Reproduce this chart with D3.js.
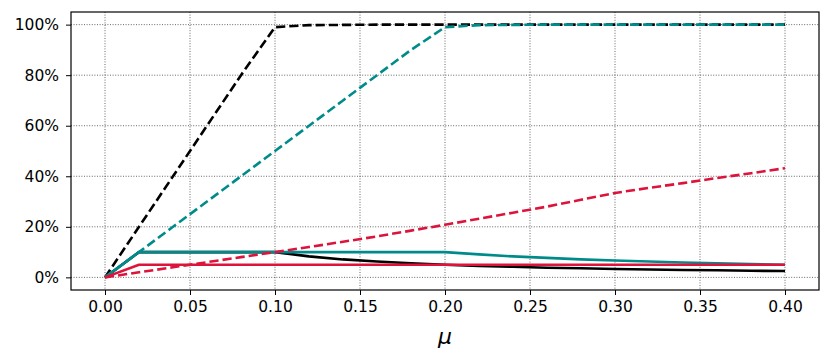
<!DOCTYPE html>
<html>
<head>
<meta charset="utf-8">
<script src="https://cdn.jsdelivr.net/npm/d3@7"></script>
<style>
  body { margin: 0; background: #fff; }
  svg text { font-family: "DejaVu Sans", sans-serif; }
</style>
</head>
<body>
<div id="chart"></div>
<script>
// mu grid (x values)
const mu = [0, 0.02, 0.04, 0.06, 0.08, 0.10, 0.12, 0.14, 0.16, 0.18, 0.20,
            0.22, 0.24, 0.26, 0.28, 0.30, 0.32, 0.34, 0.36, 0.38, 0.40];

// series
const blackSolid  = [0, 0.10, 0.10, 0.10, 0.10, 0.10, 0.083, 0.071, 0.0625, 0.056, 0.05,
                     0.045, 0.042, 0.038, 0.036, 0.033, 0.031, 0.029, 0.028, 0.026, 0.025];
const blackDashed = [0, 0.20, 0.40, 0.60, 0.80, 0.99, 0.998, 0.999, 1, 1, 1,
                     1, 1, 1, 1, 1, 1, 1, 1, 1, 1];
const tealSolid   = [0, 0.10, 0.10, 0.10, 0.10, 0.10, 0.10, 0.10, 0.10, 0.10, 0.10,
                     0.091, 0.083, 0.077, 0.071, 0.067, 0.0625, 0.059, 0.056, 0.053, 0.05];
const tealDashed  = [0, 0.10, 0.20, 0.30, 0.40, 0.50, 0.60, 0.70, 0.80, 0.90, 0.99,
                     0.998, 0.999, 1, 1, 1, 1, 1, 1, 1, 1];
const redSolid    = [0, 0.05, 0.05, 0.05, 0.05, 0.05, 0.05, 0.05, 0.05, 0.05, 0.05,
                     0.05, 0.05, 0.05, 0.05, 0.05, 0.05, 0.05, 0.05, 0.05, 0.05];
const redDashed   = [0, 0.02, 0.04, 0.06, 0.08, 0.10, 0.12, 0.141, 0.162, 0.185, 0.208,
                     0.232, 0.256, 0.28, 0.307, 0.334, 0.354, 0.373, 0.393, 0.412, 0.432];

const xTicks = [0, 0.05, 0.10, 0.15, 0.20, 0.25, 0.30, 0.35, 0.40];
const yTicks = [0, 0.2, 0.4, 0.6, 0.8, 1.0];

const series = [
  {values: blackSolid,  color: "#000000", dashed: false},
  {values: blackDashed, color: "#000000", dashed: true},
  {values: tealSolid,   color: "#008b8b", dashed: false},
  {values: tealDashed,  color: "#008b8b", dashed: true},
  {values: redSolid,    color: "#dc143c", dashed: false},
  {values: redDashed,   color: "#dc143c", dashed: true}
];

// dimensions
const margin = {top: 12, right: 12, bottom: 70, left: 71},
    width = 831 - margin.left - margin.right,
    height = 360 - margin.top - margin.bottom;

const svg = d3.select("#chart")
    .append("svg")
    .attr("width", 831)
    .attr("height", 360);

const g = svg.append("g")
    .attr("transform", "translate(" + margin.left + "," + margin.top + ")");

const x = d3.scaleLinear().domain([-0.02, 0.42]).range([0, width]);
const y = d3.scaleLinear().domain([-0.05, 1.05]).range([height, 0]);

// grid
g.append("g").selectAll("line").data(xTicks).join("line")
    .attr("x1", d => x(d)).attr("x2", d => x(d))
    .attr("y1", 0).attr("y2", height)
    .attr("stroke", "#000").attr("stroke-width", 0.6)
    .attr("stroke-dasharray", "1,1.6");
g.append("g").selectAll("line").data(yTicks).join("line")
    .attr("y1", d => y(d)).attr("y2", d => y(d))
    .attr("x1", 0).attr("x2", width)
    .attr("stroke", "#000").attr("stroke-width", 0.6)
    .attr("stroke-dasharray", "1,1.6");

// axes
const xAxis = g.append("g")
    .attr("transform", "translate(0," + height + ")")
    .call(d3.axisBottom(x).tickValues(xTicks).tickFormat(d3.format(".2f"))
        .tickSizeInner(5).tickSizeOuter(0).tickPadding(6));
const yAxis = g.append("g")
    .call(d3.axisLeft(y).tickValues(yTicks).tickFormat(d3.format(".0%"))
        .tickSizeInner(5).tickSizeOuter(0).tickPadding(7));

[xAxis, yAxis].forEach(a => {
  a.select(".domain").remove();
  a.selectAll("text").attr("font-size", 15.5).attr("fill", "#000")
      .attr("font-family", "DejaVu Sans, sans-serif");
  a.selectAll("line").attr("stroke", "#000").attr("stroke-width", 1);
});

// lines
const line = d3.line()
    .x((d, i) => x(mu[i]))
    .y(d => y(d));

series.forEach(s => {
  g.append("path")
      .datum(s.values)
      .attr("d", line)
      .attr("fill", "none")
      .attr("stroke", s.color)
      .attr("stroke-width", 2.6)
      .attr("stroke-linejoin", "round")
      .attr("stroke-dasharray", s.dashed ? "9.2,4" : null);
});

// frame
g.append("rect")
    .attr("width", width).attr("height", height)
    .attr("fill", "none").attr("stroke", "#000").attr("stroke-width", 1.2);

// x label
svg.append("text")
    .attr("x", margin.left + x(0.2))
    .attr("y", 344)
    .attr("text-anchor", "middle")
    .attr("font-size", 22)
    .attr("font-style", "italic")
    .text("μ");
</script>
</body>
</html>
